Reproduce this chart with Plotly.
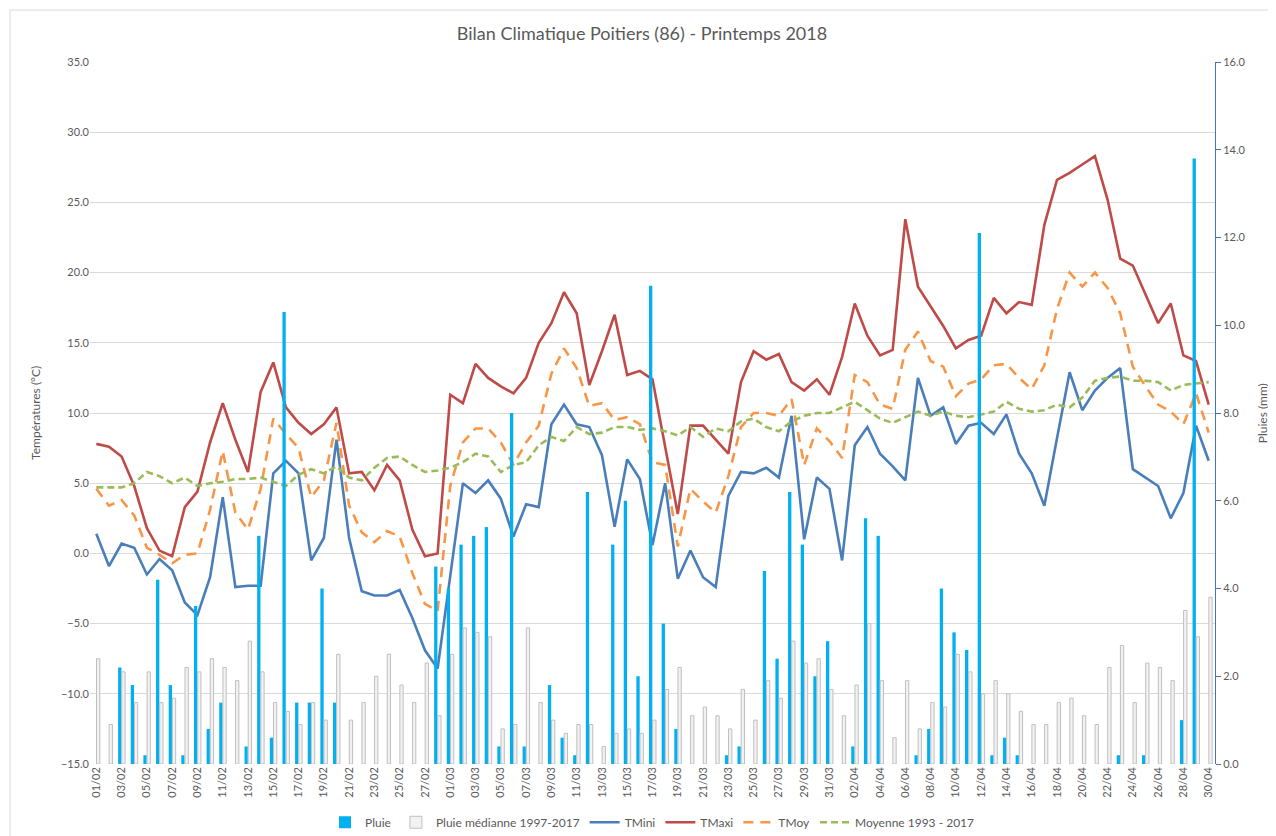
import plotly.graph_objects as go

# Bilan climatique Poitiers - printemps 2018 (01/02 -> 30/04)
MONTHS = [(2, 28), (3, 31), (4, 30)]
days = [f"{d:02d}/{m:02d}" for m, n in MONTHS for d in range(1, n + 1)]

# Temperatures (°C)
t_maxi = [7.8, 7.6, 6.9, 4.8, 1.8, 0.2, -0.2, 3.3, 4.4, 7.9, 10.7, 8.1, 5.8, 11.5,
          13.6, 10.4, 9.3, 8.5, 9.2, 10.4, 5.7, 5.8, 4.5, 6.3, 5.2, 1.7, -0.2, 0.0,
          11.3, 10.7, 13.5, 12.5, 11.9, 11.4, 12.5, 15.0, 16.4, 18.6, 17.1, 12.0, 14.4,
          17.0, 12.7, 13.0, 12.4, 7.7, 2.8, 9.1, 9.1, 8.1, 7.1, 12.2, 14.4, 13.8, 14.2,
          12.2, 11.6, 12.4, 11.3,
          14.0, 17.8, 15.5, 14.1, 14.5, 23.8, 19.0, 17.6, 16.2, 14.6, 15.2, 15.5, 18.2,
          17.1, 17.9, 17.7, 23.4, 26.6, 27.1, 27.7, 28.3, 25.2, 21.0, 20.5, 18.4, 16.4,
          17.8, 14.1, 13.7, 10.6]

t_mini = [1.4, -0.9, 0.7, 0.4, -1.5, -0.4, -1.2, -3.5, -4.4, -1.7, 4.0, -2.4, -2.3, -2.3,
          5.7, 6.6, 5.7, -0.5, 1.1, 8.1, 1.1, -2.7, -3.0, -3.0, -2.6, -4.6, -6.9, -8.2,
          -1.6, 5.0, 4.3, 5.2, 3.9, 1.2, 3.5, 3.3, 9.2, 10.6, 9.2, 9.0, 7.0, 1.9, 6.7,
          5.3, 0.6, 5.0, -1.8, 0.2, -1.7, -2.4, 4.1, 5.8, 5.7, 6.1, 5.4, 9.8, 1.0, 5.4,
          4.6,
          -0.5, 7.7, 9.0, 7.1, 6.2, 5.2, 12.5, 9.8, 10.4, 7.8, 9.1, 9.3, 8.5, 9.9, 7.1,
          5.7, 3.4, 8.2, 12.9, 10.2, 11.6, 12.5, 13.2, 6.0, 5.4, 4.8, 2.5, 4.3, 9.1, 6.6]

t_moy = [4.6, 3.4, 3.8, 2.7, 0.4, -0.1, -0.7, -0.1, 0.0, 3.1, 7.3, 2.9, 1.7, 4.6,
         9.6, 8.5, 7.5, 4.0, 5.2, 9.3, 3.4, 1.5, 0.8, 1.6, 1.2, -1.4, -3.6, -4.1,
         4.8, 7.9, 8.9, 8.9, 7.9, 6.3, 7.9, 9.1, 12.8, 14.6, 13.2, 10.5, 10.7, 9.5, 9.7,
         9.2, 6.5, 6.3, 0.5, 4.6, 3.7, 2.9, 5.5, 9.0, 10.0, 10.0, 9.8, 11.0, 6.3, 8.9,
         8.0,
         6.8, 12.7, 12.2, 10.6, 10.3, 14.5, 15.8, 13.7, 13.3, 11.2, 12.1, 12.4, 13.4,
         13.5, 12.5, 11.7, 13.4, 17.4, 20.0, 19.0, 20.0, 18.9, 17.1, 13.3, 11.9, 10.6,
         10.1, 9.2, 11.4, 8.6]

t_moy_ref = [4.7, 4.7, 4.7, 5.0, 5.8, 5.5, 5.0, 5.4, 4.8, 5.0, 5.1, 5.3, 5.3, 5.4,
             5.1, 4.8, 5.6, 6.0, 5.7, 6.2, 5.4, 5.2, 6.1, 6.8, 6.9, 6.3, 5.8, 5.9,
             6.1, 6.5, 7.1, 6.9, 5.8, 6.3, 6.5, 7.7, 8.3, 8.0, 9.0, 8.5, 8.6, 9.0, 9.0,
             8.8, 8.9, 8.7, 8.4, 9.0, 8.3, 8.9, 8.7, 9.4, 9.6, 9.0, 8.7, 9.4, 9.8, 10.0,
             10.0,
             10.4, 10.8, 10.2, 9.6, 9.3, 9.7, 10.1, 9.8, 10.1, 9.8, 9.7, 9.9, 10.1, 10.8,
             10.3, 10.1, 10.2, 10.6, 10.4, 11.1, 12.3, 12.5, 12.6, 12.3, 12.3, 12.2, 11.6,
             12.0, 12.1, 12.2]

# Pluies (mm)
pluie = [0, 0, 2.2, 1.8, 0.2, 4.2, 1.8, 0.2, 3.6, 0.8, 1.4, 0, 0.4, 5.2,
         0.6, 10.3, 1.4, 1.4, 4.0, 1.4, 0, 0, 0, 0, 0, 0, 0, 4.5,
         4.0, 5.0, 5.2, 5.4, 0.4, 8.0, 0.4, 0, 1.8, 0.6, 0.2, 6.2, 0, 5.0, 6.0,
         2.0, 10.9, 3.2, 0.8, 0, 0, 0, 0.2, 0.4, 0, 4.4, 2.4, 6.2, 5.0, 2.0, 2.8,
         0, 0.4, 5.6, 5.2, 0, 0, 0.2, 0.8, 4.0, 3.0, 2.6, 12.1, 0.2, 0.6, 0.2,
         0, 0, 0, 0, 0, 0, 0, 0.2, 0, 0.2, 0, 0, 1.0, 13.8, 0]

pluie_med = [2.4, 0.9, 2.1, 1.4, 2.1, 1.4, 1.5, 2.2, 2.1, 2.4, 2.2, 1.9, 2.8, 2.1,
             1.4, 1.2, 0.9, 1.4, 1.0, 2.5, 1.0, 1.4, 2.0, 2.5, 1.8, 1.4, 2.3, 1.1,
             2.5, 3.1, 3.0, 2.9, 0.8, 0.9, 3.1, 1.4, 1.0, 0.7, 0.9, 0.9, 0.4, 0.7, 0.8,
             0.7, 1.0, 1.7, 2.2, 1.1, 1.3, 1.1, 0.8, 1.7, 1.0, 1.9, 1.5, 2.8, 2.3, 2.4,
             1.7,
             1.1, 1.8, 3.2, 1.9, 0.6, 1.9, 0.8, 1.4, 1.3, 2.5, 2.1, 1.6, 1.9, 1.6, 1.2,
             0.9, 0.9, 1.4, 1.5, 1.1, 0.9, 2.2, 2.7, 1.4, 2.3, 2.2, 1.9, 3.5, 2.9, 3.8]

FONT = "Lato, 'Open Sans', sans-serif"
TEXT = '#595959'
GRID = '#d9d9d9'

fig = go.Figure()

fig.add_trace(go.Bar(x=days, y=pluie, name='Pluie', yaxis='y2',
                     marker=dict(color='#00b0f0', line=dict(width=0))))
fig.add_trace(go.Bar(x=days, y=pluie_med, name='Pluie médianne 1997-2017', yaxis='y2',
                     marker=dict(color='#f2f2f2', line=dict(color='#bfbfbf', width=1))))

fig.add_trace(go.Scatter(x=days, y=t_mini, name='TMini', mode='lines',
                         line=dict(color='#4a7ebb', width=2.6)))
fig.add_trace(go.Scatter(x=days, y=t_maxi, name='TMaxi', mode='lines',
                         line=dict(color='#be4b48', width=2.6)))
fig.add_trace(go.Scatter(x=days, y=t_moy, name='TMoy', mode='lines',
                         line=dict(color='#f79646', width=2.6, dash='10px,7px')))
fig.add_trace(go.Scatter(x=days, y=t_moy_ref, name='Moyenne 1993 - 2017', mode='lines',
                         line=dict(color='#9bbb59', width=2.6, dash='7px,4px')))

# la page ajoute une marge de 8 px autour de la figure
fig.update_layout(
    width=1268, height=828,
    paper_bgcolor='white', plot_bgcolor='white',
    font=dict(family=FONT, size=11, color=TEXT),
    margin=dict(l=82, r=61, t=54, b=72, autoexpand=False),
    title=dict(text='Bilan Climatique Poitiers (86) - Printemps 2018',
               x=0.5, xanchor='center', y=0.9686, yanchor='middle',
               font=dict(size=18, color=TEXT)),
    barmode='group', bargap=0.42, bargroupgap=0.1,
    showlegend=True,
    legend=dict(orientation='h', x=0.5, xanchor='center', y=-0.083, yanchor='middle',
                font=dict(size=12, color=TEXT), traceorder='normal'),
    xaxis=dict(type='category', tickvals=days[::2], tickangle=-90, showgrid=False,
               showline=False, ticks='', tickfont=dict(size=11, color=TEXT)),
    # axe horizontal qui croise à 0 °C (graduations seulement)
    xaxis2=dict(overlaying='x', anchor='free', position=0.3, range=[-0.5, 88.5],
                tickvals=[k - 0.5 for k in range(0, 90, 2)], ticks='outside', ticklen=4,
                tickcolor=GRID, showticklabels=False, showgrid=False, showline=True,
                linecolor=GRID, zeroline=False),
    yaxis=dict(range=[-15, 35], dtick=5, tickformat='.1f', gridcolor=GRID, gridwidth=1,
               zeroline=False, showline=False, tickfont=dict(size=11, color=TEXT)),
    yaxis2=dict(range=[0, 16], dtick=2, tickformat='.1f', overlaying='y', side='right',
                showgrid=False, zeroline=False, showline=True, linecolor='#4472c4',
                ticks='outside', ticklen=5, tickcolor='#4472c4',
                tickfont=dict(size=11, color=TEXT)),
    annotations=[
        dict(text='Températures (°C)', xref='paper', yref='paper', x=-0.049, y=0.5,
             xanchor='center', yanchor='middle', textangle=-90, showarrow=False,
             font=dict(size=12, color=TEXT)),
        dict(text='Pluies (mm)', xref='paper', yref='paper', x=1.042, y=0.5,
             xanchor='center', yanchor='middle', textangle=-90, showarrow=False,
             font=dict(size=12, color=TEXT)),
    ],
    shapes=[dict(type='rect', xref='paper', yref='paper', x0=-0.0711, x1=1.07,
                 y0=-0.12, y1=1.074, line=dict(color=GRID, width=1), layer='below')],
)

fig.write_html("out.html")
